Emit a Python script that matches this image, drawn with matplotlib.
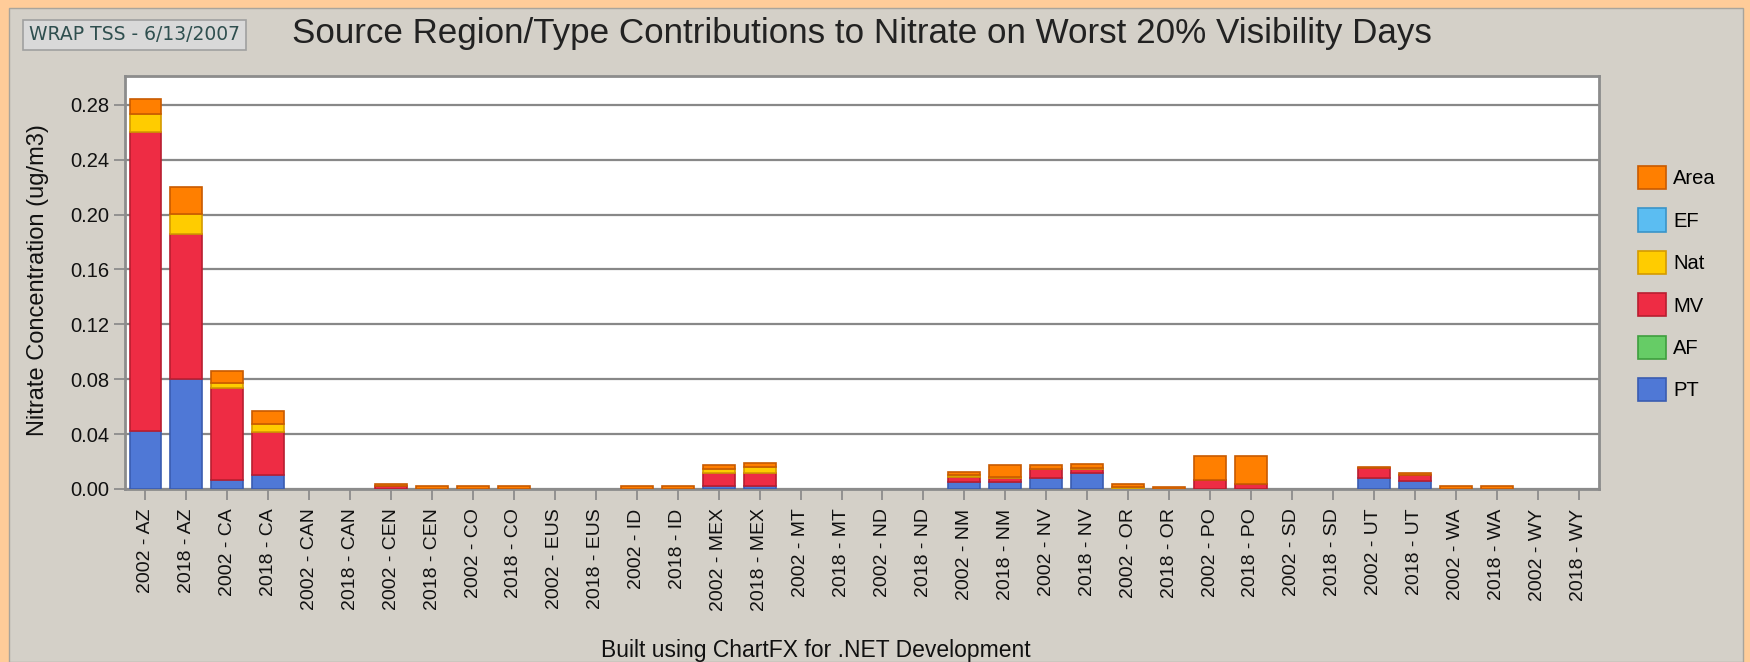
import numpy as np
import matplotlib
matplotlib.use("Agg")
import matplotlib.pyplot as plt
from matplotlib.patches import Rectangle, Patch

plt.rcParams['font.family'] = ['Liberation Sans', 'DejaVu Sans']

regions = ["AZ", "CA", "CAN", "CEN", "CO", "EUS", "ID", "MEX", "MT", "ND",
           "NM", "NV", "OR", "PO", "SD", "UT", "WA", "WY"]
years = ["2002", "2018"]
categories = [f"{y} - {r}" for r in regions for y in years]

PT = [0.042, 0.080, 0.0066, 0.010, 0, 0, 0, 0, 0, 0, 0, 0, 0, 0,
      0.002, 0.002, 0, 0, 0, 0, 0.0049, 0.0049, 0.0082, 0.0114, 0, 0,
      0, 0, 0, 0, 0.0078, 0.006, 0, 0, 0, 0]
AF = [0] * 36
MV = [0.218, 0.1055, 0.0673, 0.0318, 0, 0, 0.0025, 0, 0, 0, 0, 0, 0, 0,
      0.0098, 0.0094, 0, 0, 0, 0, 0.0036, 0.003, 0.0062, 0.003, 0, 0,
      0.0066, 0.0034, 0, 0, 0.0073, 0.0042, 0, 0, 0, 0]
Nat = [0.013, 0.0146, 0.0036, 0.0054, 0, 0, 0, 0, 0, 0, 0, 0, 0, 0,
       0.0029, 0.0049, 0, 0, 0, 0, 0.0017, 0.001, 0.0005, 0.0012, 0.0014, 0.0003,
       0, 0, 0, 0, 0, 0, 0, 0, 0, 0]
EF = [0] * 36
Area = [0.011, 0.020, 0.0085, 0.0097, 0, 0, 0.0011, 0.0019, 0.0019, 0.0019, 0, 0,
        0.0019, 0.0019, 0.003, 0.0029, 0, 0, 0, 0, 0.0024, 0.0085, 0.0026, 0.0024,
        0.002, 0.0015, 0.0174, 0.0206, 0, 0, 0.0012, 0.0012, 0.002, 0.002, 0, 0]

series = [("PT", PT, "#4F78D6", "#3A5CB0"),
          ("AF", AF, "#66CC66", "#3E9E3E"),
          ("MV", MV, "#EE2C44", "#B81E30"),
          ("Nat", Nat, "#FFCC00", "#D49A00"),
          ("EF", EF, "#5BBDF2", "#3A94C8"),
          ("Area", Area, "#FF7F00", "#C85A00")]

W, H = 1750, 662
fig = plt.figure(figsize=(W / 100, H / 100), dpi=100, facecolor="#FFCC99")
fig.add_artist(Rectangle((9 / W, 0), (1743 - 9) / W, (H - 8) / H,
                         transform=fig.transFigure, facecolor="#D4D0C8",
                         edgecolor="#A8A49C", linewidth=1, zorder=0))

ax = fig.add_axes([125 / W, (H - 489) / H, (1599 - 125) / W, (489 - 76) / H])
ax.set_facecolor("white")
x = np.arange(len(categories))
bottom = np.zeros(len(categories))
handles = []
for name, vals, fc, ec in series:
    vals = np.array(vals, dtype=float)
    bars = ax.bar(x, vals, bottom=bottom, width=0.78, color=fc, edgecolor=ec,
                  linewidth=1.2, zorder=3)
    for p, v in zip(bars.patches, vals):
        if v <= 0:
            p.set_visible(False)
    bottom += vals
    handles.append(Patch(facecolor=fc, edgecolor=ec, linewidth=1.2, label=name))

ax.set_xlim(-0.5, len(categories) - 0.5)
ax.set_ylim(0, 0.301)
yt = np.arange(0, 0.281, 0.04)
ax.set_yticks(yt)
ax.set_yticklabels([f"{v:.2f}" for v in yt])
ax.yaxis.grid(True, color="#888888", linewidth=1.6, zorder=1)
ax.set_axisbelow(True)
ax.set_xticks(x)
ax.set_xticklabels(categories, rotation=90, fontsize=14)
ax.tick_params(axis="both", direction="out", color="#8C8C8C", width=1.3,
               length=8, labelcolor="#111111")
ax.tick_params(axis="y", labelsize=14.5, pad=3)
ax.tick_params(axis="x", pad=6)
for s in ax.spines.values():
    s.set_color("#8C8C8C")
    s.set_linewidth(2)

fig.text(38 / W, 1 - 280 / H, "Nitrate Concentration (ug/m3)", rotation=90,
         ha="center", va="center", fontsize=17, color="#111111")

fig.text(862 / W, 1 - 33 / H,
         "Source Region/Type Contributions to Nitrate on Worst 20% Visibility Days",
         ha="center", va="center", fontsize=25.2, color="#222222")

fig.text(29 / W, 1 - 35 / H, "WRAP TSS - 6/13/2007", ha="left", va="center",
         fontsize=13.5, color="#2F4F4F", family=["DejaVu Sans"],
         bbox=dict(boxstyle="square,pad=0.3", facecolor="#D9D9D9",
                   edgecolor="#A0A0A0", linewidth=1.2))

fig.text(816 / W, 1 - 651 / H, "Built using ChartFX for .NET Development",
         ha="center", va="center", fontsize=16.5, color="#111111")

fig.legend(handles=handles[::-1], loc="upper left",
           bbox_to_anchor=(1638 / W, 1 - 166 / H), frameon=False,
           fontsize=14.5, handlelength=1.4, handleheight=1.4,
           labelspacing=0.95, handletextpad=0.35, borderpad=0, borderaxespad=0)

fig.savefig("out.png", dpi=100, facecolor=fig.get_facecolor())
